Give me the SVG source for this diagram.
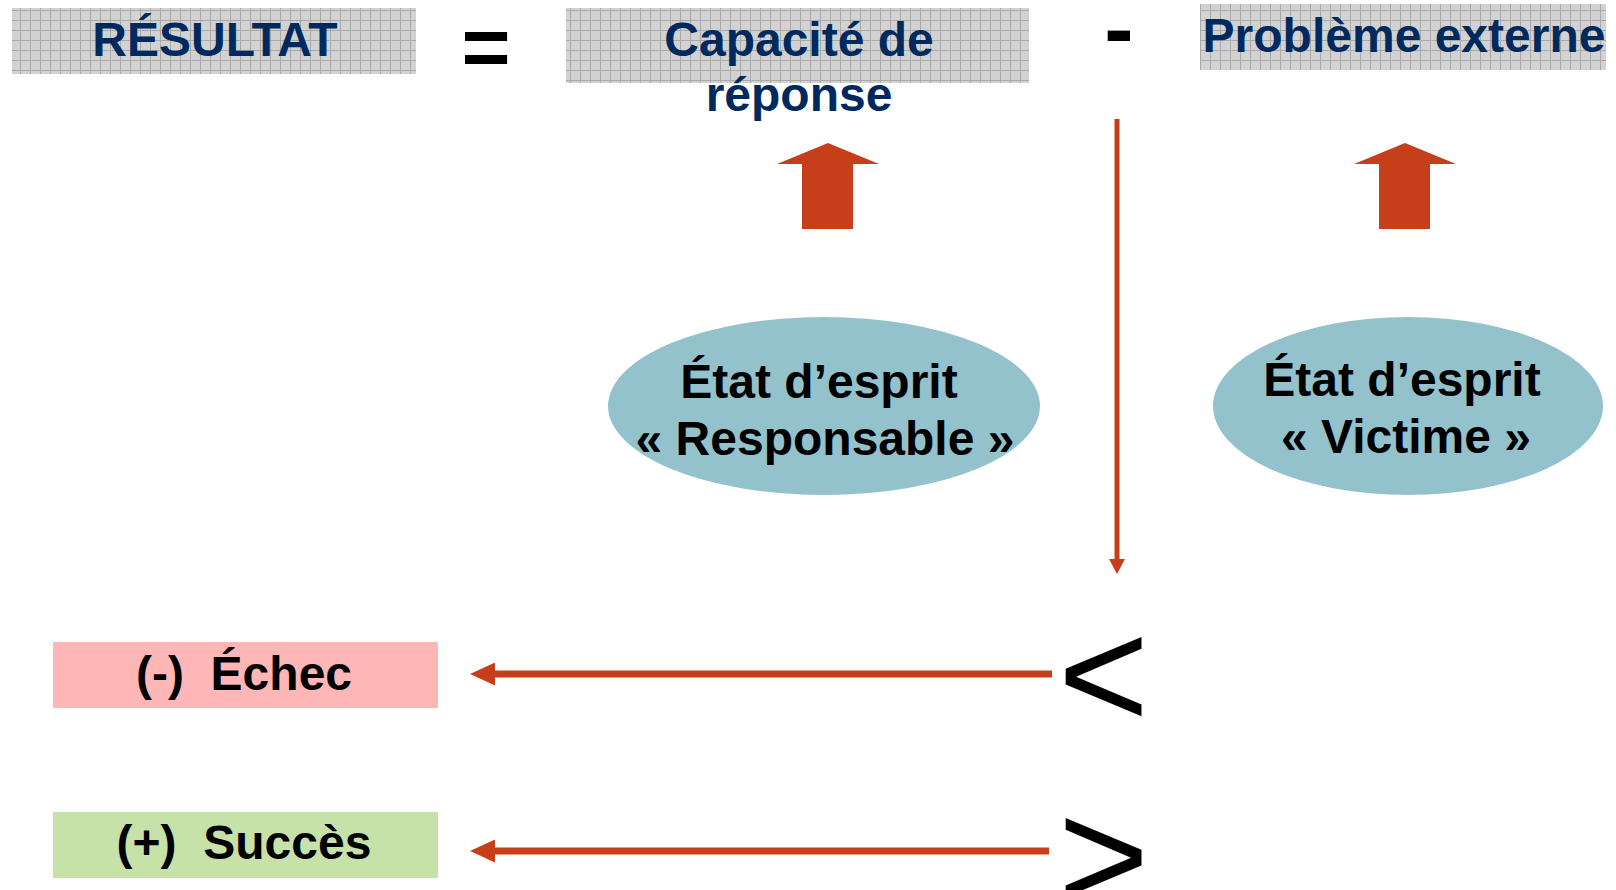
<svg xmlns="http://www.w3.org/2000/svg" width="1616" height="890" viewBox="0 0 1616 890">
  <style>
    .title { font-family: "Liberation Sans", Arial, sans-serif; font-weight: bold; font-size: 48px; fill: #002A5E; text-anchor: middle; }
    .lbl { font-family: "Liberation Sans", Arial, sans-serif; font-weight: bold; font-size: 48px; fill: #000; text-anchor: middle; }
    .op { font-family: "Liberation Sans", Arial, sans-serif; fill: #000; }
    .ell { fill: #93C2CC; }
    .conn { stroke: #C63E1A; fill: none; }
  </style>
  <defs>
    <pattern id="grid" width="10" height="10" patternUnits="userSpaceOnUse">
      <rect width="10" height="10" fill="#D2D2D2"/>
      <path d="M0 0.5H10M0.5 0V10" stroke="#A9A9A9" stroke-width="1"/>
    </pattern>
    <marker id="headH" viewBox="0 0 25 23" markerWidth="25" markerHeight="23" refX="0" refY="11.5" orient="auto" markerUnits="userSpaceOnUse">
      <path d="M0 0L25 11.5L0 23Z" fill="#C63E1A"/>
    </marker>
    <marker id="headV" viewBox="0 0 15 16" markerWidth="15" markerHeight="16" refX="0" refY="8" orient="auto" markerUnits="userSpaceOnUse">
      <path d="M0 0L15 8L0 16Z" fill="#C63E1A"/>
    </marker>
    <path id="blockUp" d="M0 0L51 21L25 21L25 86L-26 86L-26 21L-51 21Z" fill="#C63E1A"/>
  </defs>

  <g id="resultat">
    <rect x="12" y="8" width="404" height="66" fill="url(#grid)"/>
    <text class="title" x="215" y="56" font-size="51">RÉSULTAT</text>
  </g>
  <g id="op-equals">
    <text class="op" x="486" y="76" font-size="84" font-weight="bold" text-anchor="middle">=</text>
  </g>
  <g id="capacite">
    <rect x="566" y="8" width="463" height="75" fill="url(#grid)"/>
    <text class="title" x="799" y="56">Capacité de</text>
    <text class="title" x="799" y="111">réponse</text>
  </g>
  <g id="op-minus">
    <text class="op" x="1119" y="58" font-size="88" font-weight="bold" text-anchor="middle">-</text>
  </g>
  <g id="probleme">
    <rect x="1200" y="4" width="406" height="66" fill="url(#grid)"/>
    <text class="title" x="1404" y="52">Problème externe</text>
  </g>

  <g id="responsable">
    <ellipse class="ell" cx="824" cy="406" rx="216" ry="89"/>
    <text class="lbl" x="819" y="398">État d’esprit</text>
    <text class="lbl" x="825" y="455">« Responsable »</text>
  </g>
  <g id="victime">
    <ellipse class="ell" cx="1408" cy="406" rx="195" ry="89"/>
    <text class="lbl" x="1402" y="396">État d’esprit</text>
    <text class="lbl" x="1406" y="453">« Victime »</text>
  </g>

  <g id="echec">
    <rect x="53" y="642" width="385" height="66" fill="#FFB6B6"/>
    <text class="lbl" x="244" y="690" xml:space="preserve">(-)  Échec</text>
  </g>
  <g id="succes">
    <rect x="53" y="812" width="385" height="66" fill="#C6E2A9"/>
    <text class="lbl" x="244" y="859" xml:space="preserve">(+)  Succès</text>
  </g>

  <g id="op-less">
    <text class="op" x="1058" y="728" font-size="156">&lt;</text>
  </g>
  <g id="op-greater">
    <text class="op" x="1058" y="909" font-size="156">&gt;</text>
  </g>

  <g id="connectors">
    <use href="#blockUp" x="828" y="143"/>
    <use href="#blockUp" x="1405" y="143"/>
    <line class="conn" x1="1117" y1="119" x2="1117" y2="559" stroke-width="5" marker-end="url(#headV)"/>
    <line class="conn" x1="1052" y1="674" x2="495" y2="674" stroke-width="7" marker-end="url(#headH)"/>
    <line class="conn" x1="1049" y1="851" x2="495" y2="851" stroke-width="7" marker-end="url(#headH)"/>
  </g>
</svg>
